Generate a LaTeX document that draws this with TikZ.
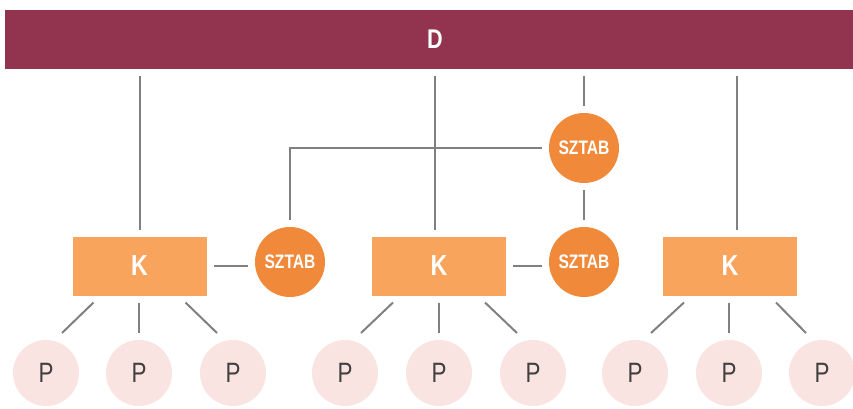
\documentclass[tikz,border=0pt]{standalone}
\usepackage{fontspec}
\setmainfont{Liberation Sans}
\newfontfamily\narrowfont[FakeStretch=0.8]{Liberation Sans}
\usetikzlibrary{positioning,calc}
\definecolor{barred}{HTML}{923450}
\definecolor{kfill}{HTML}{F8A45C}
\definecolor{szfill}{HTML}{F08A3A}
\definecolor{pfill}{HTML}{FAE4E1}
\definecolor{linegray}{HTML}{808080}

\begin{document}
\begin{tikzpicture}[
  x=1pt, y=1pt,
  font=\narrowfont,
  dbar/.style={fill=barred, minimum width=848pt, minimum height=59pt, inner sep=0pt, outer sep=7pt, text=white, font=\narrowfont\bfseries\fontsize{27pt}{29pt}\selectfont},
  kbox/.style={fill=kfill, minimum width=134pt, minimum height=59pt, inner sep=0pt, outer sep=7pt, text=white, font=\narrowfont\bfseries\fontsize{29pt}{31pt}\selectfont},
  sztab/.style={circle, fill=szfill, minimum size=70pt, inner sep=0pt, outer sep=7pt, text=white, font=\narrowfont\bfseries\fontsize{19.5pt}{21pt}\selectfont},
  pnode/.style={circle, fill=pfill, minimum size=66pt, inner sep=0pt, outer sep=7pt, text=black!75, font=\narrowfont\fontsize{28pt}{30pt}\selectfont},
  link/.style={draw=linegray, line width=2pt}
]
\useasboundingbox (0,0) rectangle (853,408);

\node[dbar] (d) at (429,368.5) {\hspace*{12pt}D};

% K units, each with three P below
\foreach \g/\kx/\pa/\pb/\pc in {1/139.5/46/139/233, 2/439/345/439/533, 3/730/635/729/822} {
  \node[kbox] (k\g) at (\kx,142) {K};
  \node[pnode] (p\g1) at (\pa,35) {P};
  \node[pnode] (p\g2) at (\pb,35) {P};
  \node[pnode] (p\g3) at (\pc,35) {P};
  \draw[link] ([xshift=28pt]k\g.south west) -- ([xshift=16pt]p\g1.north);
  \draw[link] (k\g.south -| p\g2.north) -- (p\g2.north);
  \draw[link] ([xshift=-28pt]k\g.south east) -- ([xshift=-16pt]p\g3.north);
}

\node[sztab] (sztop) at (584,260) {SZTAB};
\node[sztab] (szright) at (584,146) {SZTAB};
\node[sztab] (szleft) at (290,146) {SZTAB};

% links up to D
\draw[link] (k1.north) -- (k1.north |- d.south);
\draw[link] ($(k2.north)+(-4,0)$) -- ($(k2.north |- d.south)+(-4,0)$);
\draw[link] ($(k3.north)+(7,0)$) -- ($(k3.north |- d.south)+(7,0)$);
\draw[link] (sztop.north) -- (sztop.north |- d.south);

% staff links
\draw[link] (sztop.south) -- (szright.north);
\draw[link] (sztop.west) -| (szleft.north);
\draw[link] (k1.east) -- (k1.east -| szleft.west);
\draw[link] (k2.east) -- (k2.east -| szright.west);
\end{tikzpicture}
\end{document}
